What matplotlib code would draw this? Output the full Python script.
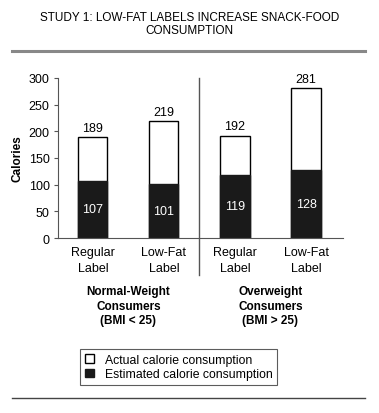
import matplotlib.pyplot as plt
from matplotlib.patches import Patch
from matplotlib.lines import Line2D

plt.rcParams['font.family'] = ['Liberation Sans', 'DejaVu Sans']

conditions = ["Regular\nLabel", "Low-Fat\nLabel", "Regular\nLabel", "Low-Fat\nLabel"]
actual = [189, 219, 192, 281]
estimated = [107, 101, 119, 128]
groups = ["Normal-Weight\nConsumers\n(BMI < 25)", "Overweight\nConsumers\n(BMI > 25)"]
yticks = [0, 50, 100, 150, 200, 250, 300]

fig = plt.figure(figsize=(3.79, 4.14), dpi=100)
ax = fig.add_axes([0.153, 0.4227, 0.752, 0.3865])

x = list(range(len(actual)))
w = 0.41
ax.bar(x, actual, w, color="white", edgecolor="black", linewidth=1)
ax.bar(x, estimated, w, color="#1a1a1a", edgecolor="#1a1a1a", linewidth=1)

for xi, a, e in zip(x, actual, estimated):
    ax.text(xi, a + 6, str(a), ha="center", va="bottom", fontsize=9)
    ax.text(xi, e / 2, str(e), ha="center", va="center", fontsize=9, color="white")

ax.set_xlim(-0.49, 3.52)
ax.set_ylim(0, 300)
ax.set_yticks(yticks)
ax.set_xticks(x)
ax.set_xticklabels(conditions, fontsize=9, linespacing=1.45)
ax.tick_params(axis="x", length=0, pad=6)
ax.tick_params(axis="y", labelsize=9, length=3, width=0.8, color="#555555", pad=3)
for s in ["top", "right"]:
    ax.spines[s].set_visible(False)
ax.spines["left"].set_color("#555555")
ax.spines["bottom"].set_color("#555555")
ax.set_ylabel("Calories", fontsize=8.5, fontweight="bold", labelpad=4)

# divider between groups
ax.plot([1.5, 1.5], [300, -69], color="#555555", lw=1, clip_on=False)

for gx, g in zip([0.5, 2.5], groups):
    ax.text(gx, -88, g, ha="center", va="top", fontsize=8.5, fontweight="bold",
            linespacing=1.3)

# title and rules
fig.text(0.5, 0.957, "STUDY 1: LOW-FAT LABELS INCREASE SNACK-FOOD", ha="center",
         va="center", fontsize=8.5)
fig.text(0.5, 0.925, "CONSUMPTION", ha="center", va="center", fontsize=8.5)
fig.add_artist(Line2D([0.032, 0.963], [0.874, 0.874], color="#888888", lw=2.2))
fig.add_artist(Line2D([0.032, 0.963], [0.036, 0.036], color="#444444", lw=1))

handles = [Patch(facecolor="white", edgecolor="black", linewidth=1),
           Patch(facecolor="#1a1a1a", edgecolor="#1a1a1a")]
leg = fig.legend(handles, ["Actual calorie consumption", "Estimated calorie consumption"],
                 loc="center", bbox_to_anchor=(0.472, 0.111), fontsize=8.8,
                 frameon=True, fancybox=False, handlelength=0.7, handleheight=0.7,
                 handletextpad=0.9, labelspacing=0.2, borderpad=0.4)
leg.get_frame().set_edgecolor("#333333")
leg.get_frame().set_linewidth(0.8)

fig.savefig("out.png", dpi=100)
